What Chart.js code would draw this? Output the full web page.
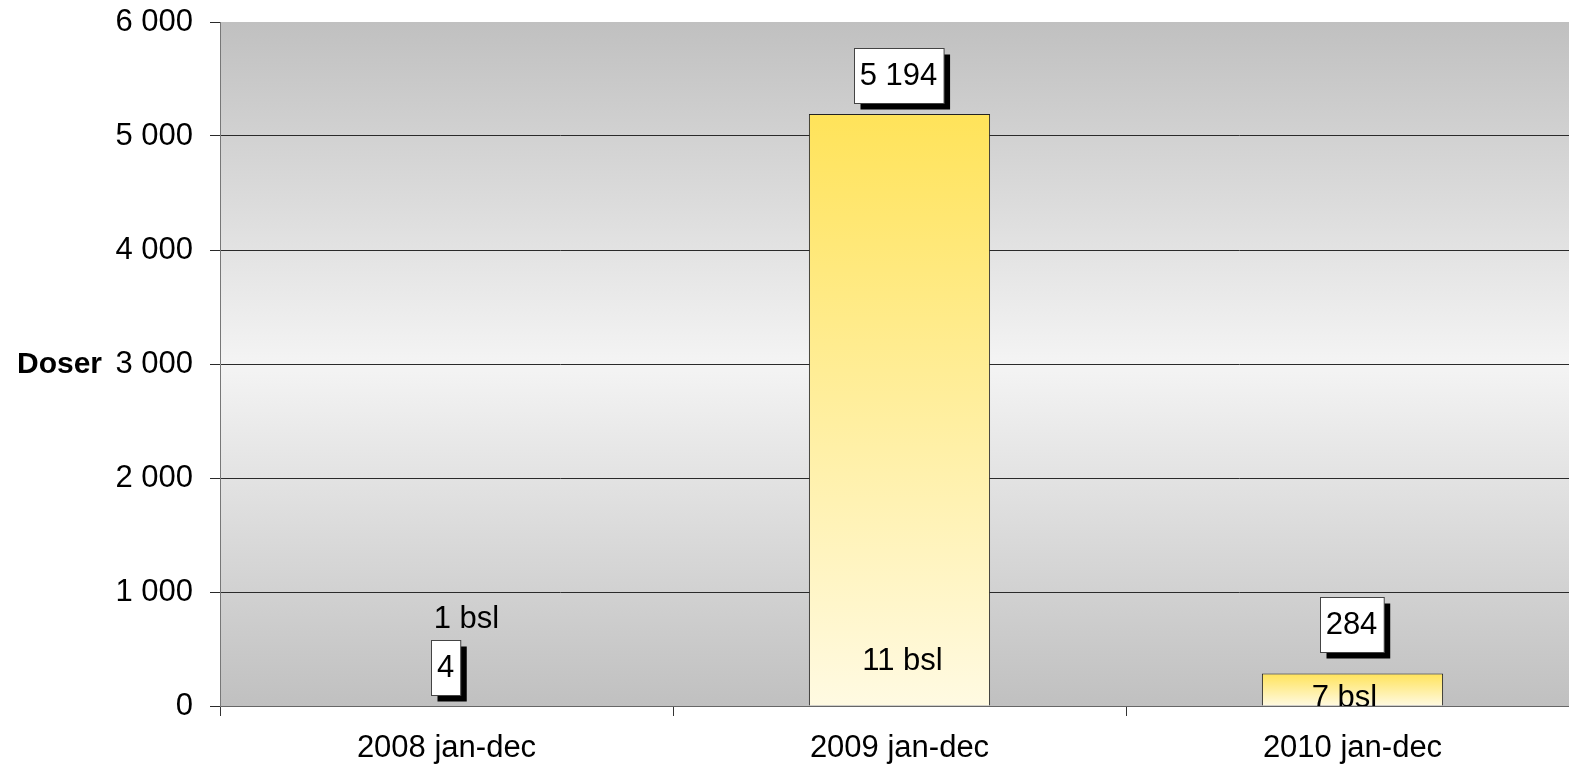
<!DOCTYPE html>
<html>
<head>
<meta charset="utf-8">
<script src="https://cdn.jsdelivr.net/npm/chart.js@4/dist/chart.umd.min.js"></script>
<style>
  html, body { margin: 0; padding: 0; background: #fff; overflow: hidden; }
  #wrap { width: 1580px; height: 774px; }
</style>
</head>
<body>
<div id="wrap"><canvas id="chart" width="1580" height="774"></canvas></div>
<script>
const categories = ["2008 jan-dec", "2009 jan-dec", "2010 jan-dec"];
const doses = [4, 5194, 284];
const bslLabels = ["1 bsl", "11 bsl", "7 bsl"];
const yTicks = [0, 1000, 2000, 3000, 4000, 5000, 6000];
const axisTitle = "Doser";

const FONT = "'Liberation Sans', Arial, sans-serif";

function fmt(v) {
  return String(v).replace(/\B(?=(\d{3})+(?!\d))/g, " ");
}

// gray-white-gray fill behind the plot
const plotBackground = {
  id: "plotBackground",
  beforeDraw(chart) {
    const { ctx, chartArea: a } = chart;
    const g = ctx.createLinearGradient(0, a.top, 0, a.bottom);
    g.addColorStop(0, "#c0c0c0");
    g.addColorStop(0.5, "#f4f4f4");
    g.addColorStop(1, "#c0c0c0");
    ctx.save();
    ctx.fillStyle = g;
    ctx.fillRect(a.left, a.top, a.right - a.left, a.bottom - a.top);
    ctx.restore();
  }
};

// value boxes with drop shadow + the "bsl" notes
const barNotes = {
  id: "barNotes",
  afterDatasetsDraw(chart) {
    const { ctx, chartArea: a } = chart;
    const y = chart.scales.y;
    const bars = chart.getDatasetMeta(0).data;
    const lift = [38, 38, 49];
    const bslAt = [763, 390, 62];
    const bslShift = [20, 3, -8];

    ctx.save();
    ctx.font = "31px " + FONT;
    ctx.textAlign = "center";
    ctx.textBaseline = "middle";

    bars.forEach((bar, i) => {
      const text = fmt(doses[i]);
      const w = ctx.measureText(text).width + 12;
      const h = 55;
      const cx = bar.x - 1;
      const cy = bar.y - lift[i];
      const x0 = Math.round(cx - w / 2) + 0.5;
      const y0 = Math.round(cy - h / 2) + 0.5;

      ctx.fillStyle = "#000";
      ctx.fillRect(x0 + 6, y0 + 6, w, h);
      ctx.fillStyle = "#fff";
      ctx.fillRect(x0, y0, w, h);
      ctx.strokeStyle = "#444";
      ctx.lineWidth = 1;
      ctx.strokeRect(x0, y0, w, h);

      ctx.fillStyle = "#000";
      ctx.fillText(text, cx, cy + 1);
    });

    ctx.beginPath();
    ctx.rect(a.left, a.top, a.right - a.left, a.bottom - a.top);
    ctx.clip();
    bars.forEach((bar, i) => {
      ctx.fillStyle = "#000";
      ctx.fillText(bslLabels[i], bar.x + bslShift[i], y.getPixelForValue(bslAt[i]));
    });
    ctx.restore();
  },
  afterDraw(chart) {
    const { ctx, chartArea: a } = chart;
    const y = chart.scales.y;
    ctx.save();
    ctx.font = "bold 30px " + FONT;
    ctx.textAlign = "right";
    ctx.textBaseline = "middle";
    ctx.fillStyle = "#000";
    ctx.fillText(axisTitle, a.left - 118, y.getPixelForValue(3000) + 1);
    ctx.restore();
  }
};

function barFill(c) {
  const chart = c.chart;
  if (!chart.chartArea || c.raw == null) return "#ffe35a";
  const y = chart.scales.y;
  const top = y.getPixelForValue(c.raw);
  const base = y.getPixelForValue(0);
  if (base - top < 1) return "#ffe35a";
  const g = chart.ctx.createLinearGradient(0, top, 0, base);
  g.addColorStop(0, "#ffe35a");
  g.addColorStop(1, "#fffae2");
  return g;
}

new Chart(document.getElementById("chart"), {
  type: "bar",
  data: {
    labels: categories,
    datasets: [{
      label: axisTitle,
      data: doses,
      backgroundColor: barFill,
      borderColor: "#222",
      borderWidth: 1,
      categoryPercentage: 1,
      barPercentage: 0.4
    }]
  },
  plugins: [plotBackground, barNotes],
  options: {
    responsive: false,
    animation: false,
    layout: { padding: { top: 22, right: 1, left: 0, bottom: 0 } },
    plugins: {
      legend: { display: false },
      tooltip: { enabled: false }
    },
    scales: {
      x: {
        offset: true,
        grid: {
          offset: true,
          drawOnChartArea: false,
          drawTicks: true,
          tickLength: 10,
          tickColor: "#333"
        },
        border: { color: "#666", width: 1 },
        ticks: {
          color: "#000",
          font: { family: FONT, size: 31 },
          padding: 14,
          maxRotation: 0
        },
        afterFit(scale) {
          scale.height = 68;
          scale.paddingLeft = 0;
          scale.paddingRight = 0;
        }
      },
      y: {
        min: 0,
        max: 6000,
        afterBuildTicks(scale) { scale.ticks = yTicks.map(v => ({ value: v })); },
        grid: {
          color: (c) => (c.tick && c.tick.value === 6000 ? "rgba(0,0,0,0)" : "#2a2a2a"),
          tickColor: "#2a2a2a",
          tickLength: 10,
          lineWidth: 1
        },
        border: { color: "#777", width: 1 },
        ticks: {
          color: "#000",
          font: { family: FONT, size: 31 },
          padding: 17,
          callback: (v) => fmt(v)
        },
        afterFit(scale) {
          scale.width = 220;
          scale.paddingTop = 0;
          scale.paddingBottom = 0;
        }
      }
    }
  }
});
</script>
</body>
</html>
